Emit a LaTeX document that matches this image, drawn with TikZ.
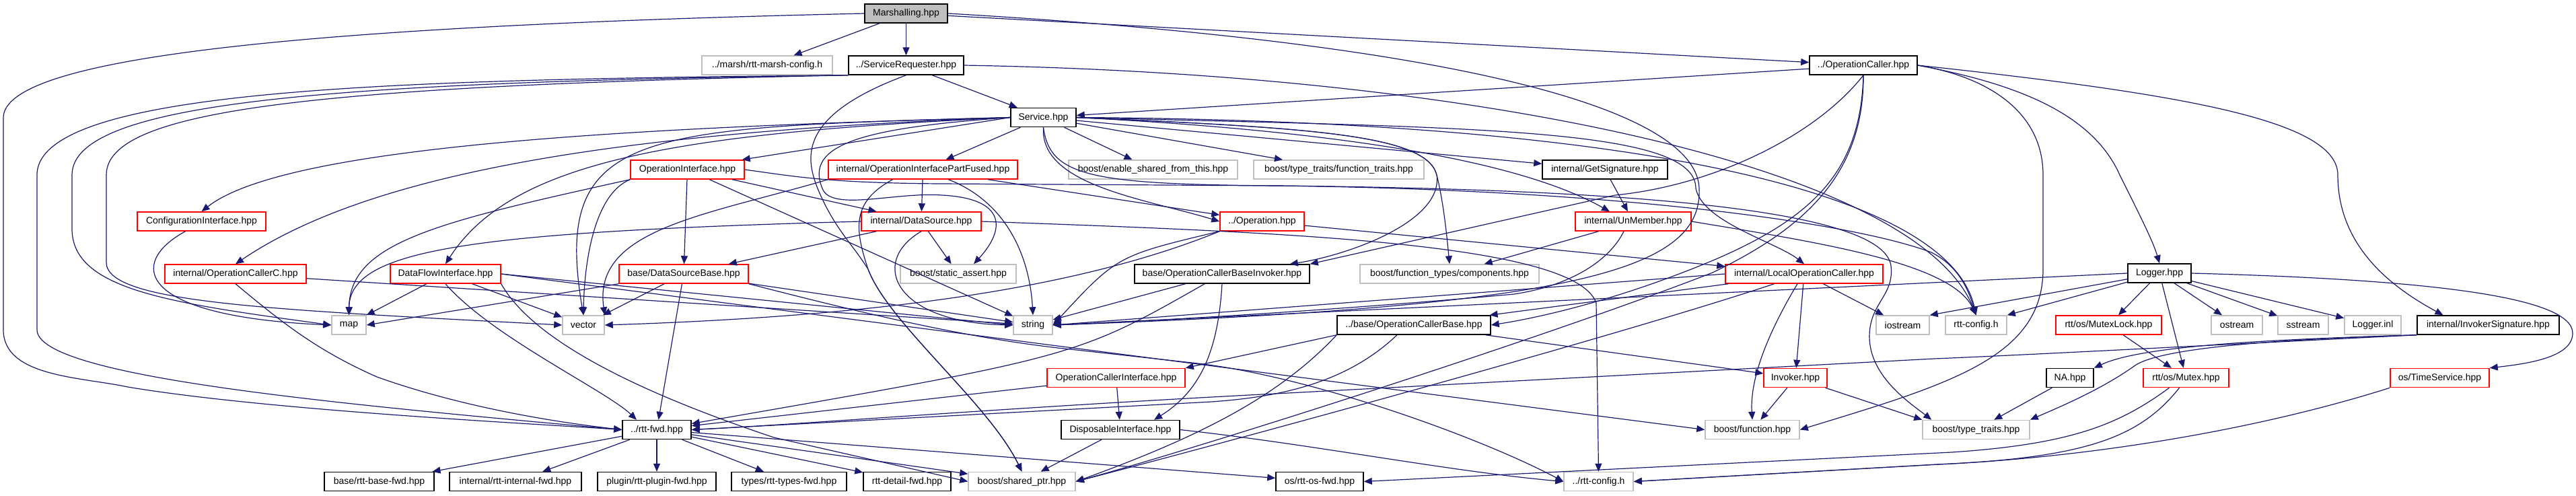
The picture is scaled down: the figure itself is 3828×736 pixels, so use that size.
\documentclass[tikz,border=0pt]{standalone}
\usepackage{fontspec}
\setmainfont{Liberation Sans}
\usetikzlibrary{arrows.meta,calc}
\definecolor{edgec}{HTML}{191970}
\definecolor{grayb}{HTML}{BFBFBF}
\tikzset{
 nbox/.style={draw, inner sep=0pt, minimum height=14pt, line width=0.75pt, font=\fontsize{7}{8}\selectfont, anchor=center},
 blk/.style={nbox, draw=black},
 rd/.style={nbox, draw=red},
 gr/.style={nbox, draw=grayb},
 root/.style={nbox, draw=black, fill=grayb},
 lk/.style={draw=edgec, line width=0.6pt, -{Triangle[length=6pt,width=5pt]}},
}
\newcommand\mynode[6]{\node[#2, minimum width=#5*0.5pt] (#1) at (#3,#4) {#6};}
\begin{document}
\begin{tikzpicture}[x=0.5pt,y=-0.5pt]
\useasboundingbox (0,0) rectangle (3828,736);
\mynode{mar}{root}{1346.5}{20}{123}{Marshalling.hpp}
\mynode{mcfg}{gr}{1140}{97}{194}{../marsh/rtt-marsh-config.h}
\mynode{sr}{blk}{1346.5}{97}{171}{../ServiceRequester.hpp}
\mynode{oc}{blk}{2769}{97}{160}{../OperationCaller.hpp}
\mynode{svc}{blk}{1550.5}{174.5}{97}{Service.hpp}
\mynode{oi}{rd}{1021.5}{252}{169}{OperationInterface.hpp}
\mynode{oipf}{rd}{1371.5}{252}{281}{internal/OperationInterfacePartFused.hpp}
\mynode{esft}{gr}{1713.5}{252}{251}{boost/enable\_shared\_from\_this.hpp}
\mynode{ftr}{gr}{1989.5}{252}{253}{boost/type\_traits/function\_traits.hpp}
\mynode{gsig}{blk}{2385}{252}{186}{internal/GetSignature.hpp}
\mynode{cfg}{rd}{299.5}{329}{191}{ConfigurationInterface.hpp}
\mynode{ds}{rd}{1369}{329}{178}{internal/DataSource.hpp}
\mynode{op}{rd}{1875.5}{329}{125}{../Operation.hpp}
\mynode{unm}{rd}{2427}{329}{172}{internal/UnMember.hpp}
\mynode{occ}{rd}{350}{407}{210}{internal/OperationCallerC.hpp}
\mynode{dfi}{rd}{662}{407}{164}{DataFlowInterface.hpp}
\mynode{dsb}{rd}{1016}{407}{192}{base/DataSourceBase.hpp}
\mynode{sa}{gr}{1424}{407}{172}{boost/static\_assert.hpp}
\mynode{ocbi}{blk}{1816}{407}{260}{base/OperationCallerBaseInvoker.hpp}
\mynode{ftc}{gr}{2154}{407}{266}{boost/function\_types/components.hpp}
\mynode{loc}{rd}{2681}{407}{234}{internal/LocalOperationCaller.hpp}
\mynode{log}{blk}{3209}{406}{94}{Logger.hpp}
\mynode{map}{gr}{518.5}{483}{51}{map}
\mynode{vec}{gr}{867}{483}{62}{vector}
\mynode{str}{gr}{1535}{483}{58}{string}
\mynode{ocb}{blk}{2101}{483}{228}{../base/OperationCallerBase.hpp}
\mynode{ios}{gr}{2827.5}{483}{79}{iostream}
\mynode{rcfg}{gr}{2936.5}{483}{91}{rtt-config.h}
\mynode{mlock}{rd}{3133.5}{483}{157}{rtt/os/MutexLock.hpp}
\mynode{ostr}{gr}{3324}{483}{76}{ostream}
\mynode{sstr}{gr}{3422.5}{483}{75}{sstream}
\mynode{linl}{gr}{3526}{483}{84}{Logger.inl}
\mynode{isig}{blk}{3697.5}{483}{211}{internal/InvokerSignature.hpp}
\mynode{oci}{rd}{1658.5}{561.5}{205}{OperationCallerInterface.hpp}
\mynode{inv}{rd}{2668}{561.5}{94}{Invoker.hpp}
\mynode{na}{blk}{3076}{561.5}{70}{NA.hpp}
\mynode{mtx}{rd}{3248.5}{561.5}{127}{rtt/os/Mutex.hpp}
\mynode{ts}{rd}{3625.5}{561.5}{147}{os/TimeService.hpp}
\mynode{fwd}{blk}{976}{638.5}{102}{../rtt-fwd.hpp}
\mynode{disp}{blk}{1665}{638.5}{176}{DisposableInterface.hpp}
\mynode{bfun}{gr}{2604}{638.5}{140}{boost/function.hpp}
\mynode{btt}{gr}{2936.5}{638.5}{159}{boost/type\_traits.hpp}
\mynode{bfwd}{blk}{563.5}{715.5}{163}{base/rtt-base-fwd.hpp}
\mynode{ifwd}{blk}{766}{715.5}{196}{internal/rtt-internal-fwd.hpp}
\mynode{pfwd}{blk}{976}{715.5}{176}{plugin/rtt-plugin-fwd.hpp}
\mynode{tfwd}{blk}{1172.5}{715.5}{171}{types/rtt-types-fwd.hpp}
\mynode{dfwd}{blk}{1348}{715.5}{130}{rtt-detail-fwd.hpp}
\mynode{sp}{gr}{1518.5}{715.5}{159}{boost/shared\_ptr.hpp}
\mynode{osfwd}{blk}{1961}{715.5}{130}{os/rtt-os-fwd.hpp}
\mynode{rcfg2}{gr}{2375.5}{715.5}{103}{../rtt-config.h}
% Marshalling
\draw[lk] (mar) -- (mcfg);
\draw[lk] (mar) -- (sr);
\draw[lk] (mar) -- (oc);
\draw[lk] (mar.west) .. controls (400,40) and (5,90) .. (5,175) -- (5,490) .. controls (5,560) and (120,560) .. (190,575) .. controls (400,610) and (800,630) .. (fwd.west);
\draw[lk] (mar.east) .. controls (2100,60) and (2520,150) .. (2525,280) .. controls (2530,400) and (2350,455) .. (str.east);
% ServiceRequester
\draw[lk] (sr) -- (svc);
\draw[lk] (sr.south west) .. controls (600,118) and (55,130) .. (55,260) -- (55,490) .. controls (55,560) and (500,600) .. (fwd.west);
\draw[lk] (sr.south west) .. controls (500,122) and (107,150) .. (107,260) -- (107,340) .. controls (107,430) and (250,450) .. (map.west);
\draw[lk] (sr.south west) .. controls (450,128) and (158,165) .. (158,260) -- (158,390) .. controls (158,450) and (400,460) .. (vec.west);
\draw[lk] (sr.east) .. controls (2200,110) and (2850,250) .. (rcfg.north);
\draw[lk] (sr.south) .. controls (1190,170) and (1195,230) .. (1215,280) .. controls (1240,340) and (1265,360) .. (1290,400) .. controls (1320,480) and (1470,600) .. (sp.north);
% OperationCaller
\draw[lk] (oc) -- (svc);
\draw[lk] (oc.south) .. controls (2700,200) and (2550,275) .. (2400,290) -- (ocbi.north east);
\draw[lk] (oc.south) .. controls (2765,250) and (2700,320) .. (2550,385) .. controls (2420,440) and (2300,470) .. (ocb.east);
\draw[lk] (oc.south) .. controls (2770,260) and (2680,340) .. (2545,405) .. controls (2300,500) and (1800,660) .. (sp.east);
\draw[lk] (oc.east) .. controls (2960,115) and (3036,170) .. (3036,260) -- (3036,400) .. controls (3036,530) and (2900,570) .. (bfun.east);
\draw[lk] (oc.east) .. controls (3000,125) and (3110,170) .. (3150,260) .. controls (3180,320) and (3200,360) .. (log.north);
\draw[lk] (oc.east) .. controls (3250,140) and (3474,180) .. (3474,260) .. controls (3474,370) and (3560,430) .. ($(isig.north)+(-67,0)$);
% Service
\draw[lk] (svc.west) .. controls (900,190) and (420,220) .. (cfg.north);
\draw[lk] (svc.west) .. controls (950,195) and (560,250) .. (occ.north);
\draw[lk] (svc.west) .. controls (1000,198) and (760,240) .. (dfi.north);
\draw[lk] (svc.west) .. controls (950,190) and (820,190) .. (vec.north);
\draw[lk] (svc.west) -- ($(oi.north east)+(-4,0)$);
\draw[lk] (svc.west) .. controls (1280,190) and (1195,215) .. (1222,280) .. controls (1235,315) and (1330,285) .. (1400,290) .. controls (1495,295) and (1495,340) .. ($(sa.north)+(23,0)$);
\draw[lk] (svc) -- (oipf);
\draw[lk] (svc) -- (esft);
\draw[lk] (svc) -- (ftr);
\draw[lk] (svc) -- (gsig);
\draw[lk] (svc.east) .. controls (2000,195) and (2260,240) .. ($(unm.north)+(-35,0)$);
\draw[lk] (svc.east) .. controls (1950,190) and (2120,200) .. (2135,260) .. controls (2145,300) and (2150,350) .. (ftc.north);
\draw[lk] (svc.east) .. controls (1950,190) and (2120,200) .. (2135,260) .. controls (2145,330) and (2000,380) .. ($(ocbi.north east)+(-30,0)$);
\draw[lk] (svc.east) .. controls (2200,190) and (2520,190) .. (2520,280) .. controls (2530,330) and (2640,360) .. (loc.north);
\draw[lk] (svc.south) .. controls (1545,275) and (1700,295) .. (op.west);
\draw[lk] (svc.south) .. controls (1560,262) and (1620,274) .. (1900,276) .. controls (2500,282) and (2800,320) .. (2810,395) .. controls (2815,440) and (2778,450) .. (2778,500) .. controls (2778,560) and (2840,600) .. ($(btt.north west)+(14,0)$);
\draw[lk] (svc.east) .. controls (2500,180) and (2900,300) .. (rcfg.north);
% OperationInterface
\draw[lk] (oi) -- (ds);
\draw[lk] (oi) -- (dsb);
\draw[lk] (oi.south west) .. controls (880,290) and (868,400) .. (vec.north);
\draw[lk] (oi.south west) .. controls (650,330) and (520,360) .. (map.north);
\draw[lk] (oi) -- (str);
\draw[lk] (oi.east) .. controls (1180,262) and (1230,272) .. (1400,273) -- (1900,276) .. controls (2400,282) and (2750,330) .. (2870,375) .. controls (2910,395) and (2925,430) .. (rcfg.north);
% OperationInterfacePartFused
\draw[lk] (oipf) -- (ds);
\draw[lk] (oipf) .. controls (1495,300) and (1530,380) .. (str.north);
\draw[lk] (oipf) -- (op);
\draw[lk] (oipf.south west) .. controls (1050,320) and (880,340) .. (vec.north east);
\draw[lk] ($(oipf.south)+(-45,0)$) .. controls (1265,300) and (1270,340) .. (1290,400) .. controls (1320,480) and (1470,600) .. (sp.north);
% DataSource
\draw[lk] (ds) -- (dsb);
\draw[lk] (ds.west) .. controls (700,345) and (520,370) .. (map.north);
\draw[lk] (ds.south) .. controls (1290,390) and (1330,480) .. (str.west);
\draw[lk] (ds) -- (sa);
\draw[lk] (ds.east) .. controls (1900,345) and (2340,360) .. (2372,450) -- (rcfg2.north);
% DataSourceBase
\draw[lk] (dsb.south west) -- (map.east);
\draw[lk] (dsb) -- (vec);
\draw[lk] (dsb) -- (str);
\draw[lk] (dsb) -- (fwd);
\draw[lk] (dsb.south east) .. controls (1300,470) and (1450,505) .. (1600,520) -- (1780,540) .. controls (1950,560) and (2200,650) .. (rcfg2.west);
% DataFlowInterface
\draw[lk] (dfi) -- (map.north east);
\draw[lk] (dfi.south) .. controls (730,500) and (900,580) .. ($(fwd.north)+(-30,0)$);
\draw[lk] (dfi) -- (vec);
\draw[lk] (dfi.east) -- (str.west);
\draw[lk] (dfi.south east) .. controls (800,520) and (1000,600) .. (1150,650) -- (sp.west);
\draw[lk] (dfi.east) -- (bfun.west);
% OperationCallerC, ConfigurationInterface
\draw[lk] (occ.south) .. controls (420,480) and (470,520) .. (560,560) .. controls (700,610) and (850,630) .. (fwd.west);
\draw[lk] (occ) -- (str);
\draw[lk] ($(cfg.south)+(-24,0)$) .. controls (190,390) and (200,470) .. (map.west);
% Operation
\draw[lk] (op.south west) .. controls (1600,430) and (1300,470) .. (vec.east);
\draw[lk] (op.south west) .. controls (1660,380) .. (str.east);
\draw[lk] (op) -- (loc);
% GetSignature, UnMember
\draw[lk] (gsig) -- (unm);
\draw[lk] (unm) -- (ftc);
\draw[lk] (unm.east) .. controls (2700,360) and (2900,390) .. (rcfg.north);
\draw[lk] ($(unm.south)+(-14,0)$) .. controls (2390,390) and (2330,425) .. (2250,437) .. controls (2000,460) and (1700,478) .. (str.east);
% OperationCallerBaseInvoker
\draw[lk] (ocbi) -- (str);
\draw[lk] (ocbi) .. controls (1600,530) .. (fwd);
\draw[lk] (ocbi.south) .. controls (1810,520) and (1785,580) .. ($(disp.north)+(50,0)$);
% LocalOperationCaller
\draw[lk] (loc) -- (ocb);
\draw[lk] (loc.west) -- (str.east);
\draw[lk] (loc) -- (inv);
\draw[lk] ($(loc.south)+(-10,0)$) .. controls (2630,490) and (2600,560) .. (bfun.north);
\draw[lk] (loc) -- (ios);
\draw[lk] (loc) .. controls (2400,500) and (1850,650) .. (sp.east);
% OperationCallerBase
\draw[lk] (ocb) -- (inv);
\draw[lk] (ocb.south west) -- (oci.north east);
\draw[lk] ($(ocb.south)+(-25,0)$) .. controls (2000,570) and (1900,590) .. (1800,597) -- (fwd.east);
\draw[lk] (ocb.south west) .. controls (1900,590) and (1780,650) .. (sp.east);
% OperationCallerInterface, DisposableInterface, Invoker
\draw[lk] (oci) -- (fwd);
\draw[lk] (oci) -- (disp);
\draw[lk] (disp) -- (sp);
\draw[lk] (disp.east) .. controls (1950,660) and (2150,700) .. (rcfg2.west);
\draw[lk] (inv) -- (bfun);
\draw[lk] (inv) -- (btt.north west);
% Logger
\draw[lk] (log) -- (ios.north east);
\draw[lk] (log) -- (rcfg.north east);
\draw[lk] (log) -- (mlock);
\draw[lk] (log) -- (mtx);
\draw[lk] (log) -- (ostr);
\draw[lk] (log) -- (sstr);
\draw[lk] (log) -- (linl);
\draw[lk] (log.east) .. controls (3600,415) and (3823,440) .. (3823,495) .. controls (3823,530) and (3760,540) .. (ts.north east);
\draw[lk] (log.west) -- (str.east);
% InvokerSignature
\draw[lk] (isig.south west) .. controls (3350,505) and (3180,515) .. (na.north east);
\draw[lk] (isig.south west) .. controls (3350,505) and (3200,520) .. (3170,545) .. controls (3120,580) and (3060,605) .. (btt.north east);
\draw[lk] (isig.south west) .. controls (3300,512) and (3000,528) .. (2874,533) -- (1914,584) .. controls (1500,605) and (1200,630) .. (fwd.east);
% NA, Mutex, TimeService
\draw[lk] (na) -- (btt);
\draw[lk] (mlock) -- (mtx);
\draw[lk] ($(mtx.south)+(-25,0)$) .. controls (3150,630) and (3080,660) .. (2900,672) -- (osfwd.east);
\draw[lk] ($(mtx.south)+(-10,0)$) .. controls (3180,650) and (3100,680) .. (2880,690) -- (rcfg2.east);
\draw[lk] (ts.south west) .. controls (3350,640) and (3100,680) .. (2880,690) -- (rcfg2.east);
% rtt-fwd
\draw[lk] (fwd) -- (bfwd);
\draw[lk] (fwd) -- (ifwd);
\draw[lk] (fwd) -- (pfwd);
\draw[lk] (fwd) -- (tfwd);
\draw[lk] (fwd) -- (dfwd);
\draw[lk] (fwd) -- (sp);
\draw[lk] (fwd) -- (osfwd);
\end{tikzpicture}
\end{document}
